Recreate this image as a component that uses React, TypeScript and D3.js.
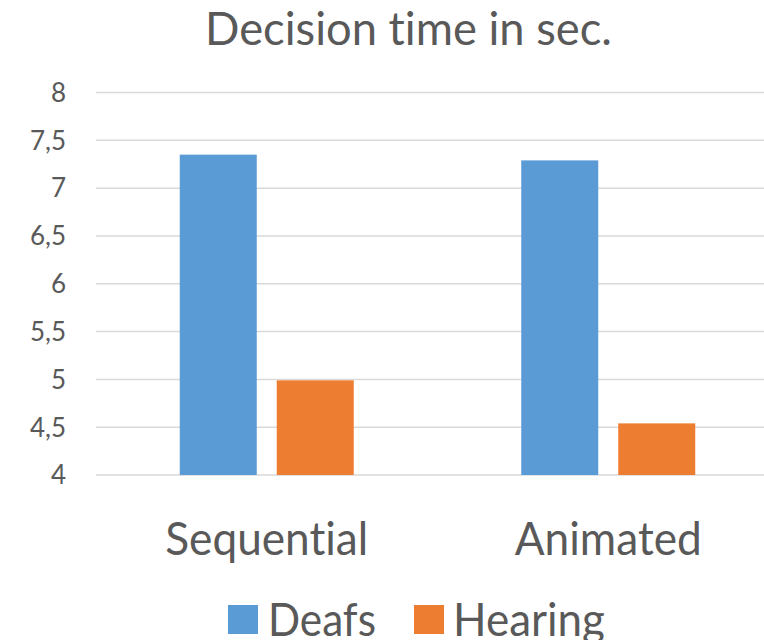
import React from "react";
import * as d3 from "d3";

const title = "Decision time in sec.";
const categories = ["Sequential", "Animated"];
const seriesNames = ["Deafs", "Hearing"];
const deafs = [7.35, 7.29];
const hearing = [4.99, 4.54];
const yTicks = [4, 4.5, 5, 5.5, 6, 6.5, 7, 7.5, 8];
const colors = ["#5B9BD5", "#ED7D31"];

const W = 764;
const H = 640;
const FONT = "Lato, 'Noto Sans', sans-serif";
const TEXT = "#595959";

export default function App() {
  const values = [deafs, hearing];
  const y = d3.scaleLinear().domain([4, 8]).range([475, 92.5]);
  const x = d3.scaleBand<string>().domain(categories).range([96, 779]).padding(0);
  const groupW = 174;
  const off = (x.bandwidth() - groupW) / 2;
  const xs = d3
    .scaleBand<string>()
    .domain(seriesNames)
    .range([off, off + groupW])
    .paddingInner(20 / 97)
    .paddingOuter(0);
  const fmt = (v: number) => String(v).replace(".", ",");
  const catLen = [203, 187];
  const legendX = [228, 414];
  const legendTextX = [268, 453];
  const legendLen = [108, 152];

  return (
    <div>
      <style>{"body{margin:0}"}</style>
      <svg
        width={W}
        height={H}
        style={{ display: "block", background: "#fff", fontVariantLigatures: "none", fontFeatureSettings: "'liga' 0, 'clig' 0" }}
        fontFamily={FONT}
      >
        <text x={408.5} y={45} textAnchor="middle" fontSize={46} fill={TEXT} textLength={407} lengthAdjust="spacingAndGlyphs">
          {title}
        </text>
        {yTicks.map((t) => (
          <g key={t}>
            <line x1={96} x2={W} y1={y(t)} y2={y(t)} stroke="#D9D9D9" strokeWidth={1.5} />
            <text x={66} y={y(t)} dy="0.36em" textAnchor="end" fontSize={26} fill={TEXT}>
              {fmt(t)}
            </text>
          </g>
        ))}
        {categories.map((c, ci) =>
          seriesNames.map((s, si) => (
            <rect
              key={c + s}
              x={(x(c) as number) + (xs(s) as number)}
              y={y(values[si][ci])}
              width={xs.bandwidth()}
              height={y(4) - y(values[si][ci])}
              fill={colors[si]}
            />
          ))
        )}
        {categories.map((c, ci) => (
          <text
            key={c}
            x={(x(c) as number) + x.bandwidth() / 2}
            y={555}
            textAnchor="middle"
            fontSize={46}
            fill={TEXT}
            textLength={catLen[ci]}
            lengthAdjust="spacingAndGlyphs"
          >
            {c}
          </text>
        ))}
        {seriesNames.map((s, si) => (
          <g key={s}>
            <rect x={legendX[si]} y={605} width={30} height={29} fill={colors[si]} />
            <text x={legendTextX[si]} y={636} fontSize={46} fill={TEXT} textLength={legendLen[si]} lengthAdjust="spacingAndGlyphs">
              {s}
            </text>
          </g>
        ))}
      </svg>
    </div>
  );
}
